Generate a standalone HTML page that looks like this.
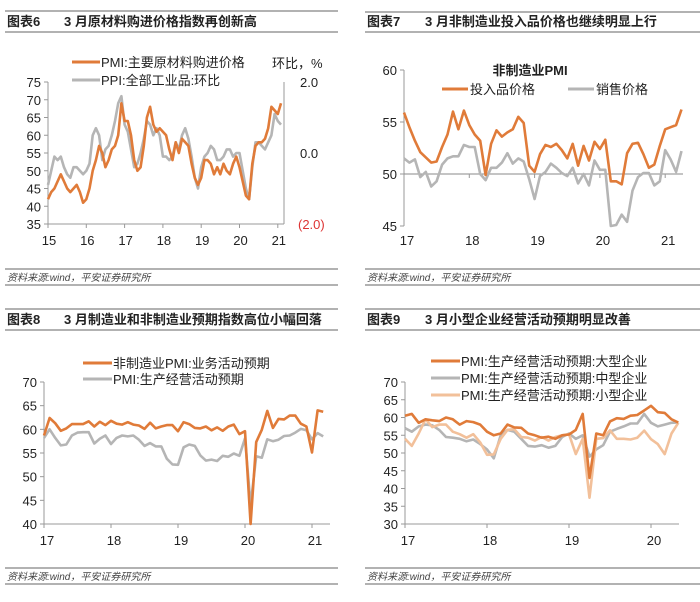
<!DOCTYPE html>
<html><head><meta charset="utf-8">
<style>
html,body{margin:0;padding:0;background:#fff}
svg{display:block;font-family:"Liberation Sans","Noto Sans CJK SC",sans-serif}
</style></head><body>
<svg id="s" width="700" height="602" viewBox="0 0 700 602" xmlns="http://www.w3.org/2000/svg">
<g stroke="#666" stroke-width="1">
<line x1="5" y1="11" x2="338" y2="11"/><line x1="5" y1="32" x2="338" y2="32"/>
<line x1="365" y1="12" x2="700" y2="12"/><line x1="365" y1="32" x2="700" y2="32"/>
<line x1="5" y1="309" x2="338" y2="309"/><line x1="5" y1="330" x2="338" y2="330"/>
<line x1="365" y1="309" x2="700" y2="309"/><line x1="365" y1="330" x2="700" y2="330"/>
<line x1="5" y1="269" x2="338" y2="269"/><line x1="5" y1="285" x2="338" y2="285"/>
<line x1="365" y1="269" x2="700" y2="269"/><line x1="365" y1="285" x2="700" y2="285"/>
<line x1="5" y1="568" x2="338" y2="568"/><line x1="5" y1="584" x2="338" y2="584"/>
<line x1="365" y1="568" x2="700" y2="568"/><line x1="365" y1="584" x2="700" y2="584"/>
</g>
<g font-size="13" font-weight="bold" fill="#222">
<text x="7" y="26">图表6</text><text x="64" y="26">3 月原材料购进价格指数再创新高</text>
<text x="367" y="26">图表7</text><text x="425" y="26">3 月非制造业投入品价格也继续明显上行</text>
<text x="7" y="324">图表8</text><text x="64" y="324">3 月制造业和非制造业预期指数高位小幅回落</text>
<text x="367" y="324">图表9</text><text x="425" y="324">3 月小型企业经营活动预期明显改善</text>
</g>
<g font-size="10" font-style="italic" fill="#444">
<text x="7" y="281">资料来源:wind，平安证券研究所</text>
<text x="367" y="281">资料来源:wind，平安证券研究所</text>
<text x="7" y="580">资料来源:wind，平安证券研究所</text>
<text x="367" y="580">资料来源:wind，平安证券研究所</text>
</g>
<g id="c" font-size="12" fill="#222"></g>
</svg>
<script>
var c=document.getElementById('c'),NS='http://www.w3.org/2000/svg';
function el(t,a,txt){var e=document.createElementNS(NS,t);for(var k in a)e.setAttribute(k,a[k]);if(txt!=null)e.textContent=txt;c.appendChild(e);return e;}
function line(x1,y1,x2,y2,col,w){el('line',{x1:x1,y1:y1,x2:x2,y2:y2,stroke:col||'#999','stroke-width':w||1});}
function poly(d,x0,dx,fy,col){var p=d.map(function(v,i){return (x0+i*dx).toFixed(1)+','+fy(v).toFixed(1)}).join(' ');el('polyline',{points:p,fill:'none',stroke:col,'stroke-width':2.6,'stroke-linejoin':'round'});}
function txt(x,y,s,a){var o={x:x,y:y};for(var k in a)o[k]=a[k];el('text',o,s);}
var OR='#E07B39',GR='#B5B5B5',LO='#F2C09A';
// Panel 1
(function(){var fy=function(v){return 224-(v-35)*142/40};
line(48,82,48,224);line(48,224,284,224);line(284,82,284,224);
for(var v=35;v<=75;v+=5){txt(41,fy(v)+5,v,{'text-anchor':'end','font-size':13});line(44,fy(v),48,fy(v));}
for(var i=0;i<7;i++){var x=48+i*38.3;line(x,224,x,228);txt(x+1,245,15+i,{'text-anchor':'middle','font-size':13});}
txt(300,87,'2.0',{'font-size':13});txt(300,158,'0.0',{'font-size':13});txt(298,229,'(2.0)',{'font-size':13,fill:'#d33'});
txt(272,68,'环比，%',{'font-size':13});
line(72,62,100,62,OR,3);txt(101,67,'PMI:主要原材料购进价格',{'font-size':13});
line(72,80,100,80,GR,3);txt(101,85,'PPI:全部工业品:环比',{'font-size':13});
var dx=38.3/12;
var g=[46,50,54,53,54,51,49,48,51,51,50,49,50,52,60,62,60,53,56,57,60,64,69,71,63,61,56,51,52,55,59,64,63,60,62,60,54,54,53,54,58,56,60,62,59,54,48,45,51,54,55,57,56,53,53,54,56,56,54,55,55,50,45,42,51,58,58,57,56,58,60,66,64,63];
var o=[42,44,45,47,49,47,45,44,45,46,44,41,42,45,50,53,57,55,51,53,56,57,60,69,64,64,60,53,50,51,57,65,68,63,61,62,61,60,56,53,58,55,59,58,57,52,48,46,48,53,53,52,49,51,49,52,50,49,52,54,51,47,43,42,52,57,58,58,59,62,68,67,66,69];
poly(g,48,dx,fy,GR);poly(o,48,dx,fy,OR);})();
// Panel 2
(function(){var fy=function(v){return 226-(v-45)*10.4};
line(404,70,404,226);line(404,174,683,174,'#888');
for(var v=45;v<=60;v+=5){txt(397,fy(v)+5,v,{'text-anchor':'end','font-size':13});line(400,fy(v),404,fy(v));}
for(var i=0;i<5;i++){var x=404+i*65.3;line(x,174,x,178);txt(x+3,245,17+i,{'text-anchor':'middle','font-size':13});}
txt(530,75,'非制造业PMI',{'text-anchor':'middle','font-size':13,'font-weight':'bold'});
line(442,89,468,89,OR,3);txt(470,94,'投入品价格',{'font-size':13});
line(568,89,594,89,GR,3);txt(596,94,'销售价格',{'font-size':13});
var dx=65.3/12;
var s=[51.5,51.1,51.4,49.7,50.2,48.8,49.3,50.9,51.5,51.7,51.7,52.8,52.6,52.6,50.0,49.4,50.6,50.6,51.1,52.0,51.0,51.5,51.2,49.5,47.6,49.8,50.2,51.0,50.6,50.1,49.8,50.6,49.1,50.0,48.9,51.3,50.4,50.4,45.0,45.1,46.1,45.4,48.4,49.7,50.1,50.1,48.9,49.3,52.3,51.4,50.2,52.2];
var o=[55.9,54.5,53.2,52.1,51.6,51.1,51.2,52.6,53.8,56.0,54.3,56.1,54.7,53.8,53.2,49.9,52.9,54.2,53.6,54.0,54.3,55.5,54.9,50.8,50.2,51.9,52.8,52.6,52.9,52.3,51.5,52.9,50.8,52.7,51.3,53.1,52.4,53.3,49.3,49.3,49.0,52.0,52.9,53.0,51.9,50.6,50.9,52.7,54.3,54.5,54.7,56.2];
poly(s,404,dx,fy,GR);poly(o,404,dx,fy,OR);})();
// Panel 3
(function(){var fy=function(v){return 524-(v-40)*142/30};
line(44,382,44,524);line(44,524,330,524);
for(var v=40;v<=70;v+=5){txt(37,fy(v)+5,v,{'text-anchor':'end','font-size':13});line(40,fy(v),44,fy(v));}
for(var i=0;i<5;i++){var x=44+i*67;line(x,524,x,528);txt(x+3,545,17+i,{'text-anchor':'middle','font-size':13});}
line(83,363,112,363,OR,3);txt(113,368,'非制造业PMI:业务活动预期',{'font-size':13});
line(83,379,112,379,GR,3);txt(113,384,'PMI:生产经营活动预期',{'font-size':13});
var dx=67/12;
var g=[58.2,60.0,58.2,56.6,56.8,58.7,59.3,59.4,59.4,57.0,58.0,58.7,56.9,58.2,58.7,58.5,58.7,57.8,56.5,57.1,56.4,56.4,53.8,52.6,52.5,56.2,56.8,56.5,54.5,53.4,53.6,53.3,54.4,54.2,54.9,54.4,58.1,44.0,54.3,54.0,57.9,57.5,57.8,58.6,58.7,59.3,60.1,59.8,57.9,59.2,58.5];
var o=[58.7,62.4,61.3,59.7,60.2,61.1,61.1,61.1,61.7,60.6,61.6,60.9,61.8,61.2,61.0,61.5,61.0,60.8,60.1,61.4,60.2,60.6,60.9,60.9,59.6,61.5,61.1,60.3,60.2,60.6,59.8,60.4,59.7,60.6,61.0,59.0,59.6,40.0,57.3,59.9,63.9,60.3,62.2,62.1,62.9,62.9,61.2,60.6,55.1,64.0,63.7];
poly(g,44,dx,fy,GR);poly(o,44,dx,fy,OR);})();
// Panel 4
(function(){var fy=function(v){return 524-(v-30)*142/40};
line(405,382,405,524);line(405,524,679,524);
for(var v=30;v<=70;v+=5){txt(398,fy(v)+5,v,{'text-anchor':'end','font-size':13});line(401,fy(v),405,fy(v));}
for(var i=0;i<4;i++){var x=405+i*82;line(x,524,x,528);txt(x+3,545,17+i,{'text-anchor':'middle','font-size':13});}
line(431,361,460,361,OR,3);txt(461,366,'PMI:生产经营活动预期:大型企业',{'font-size':13});
line(431,378,460,378,GR,3);txt(461,383,'PMI:生产经营活动预期:中型企业',{'font-size':13});
line(431,395,460,395,LO,3);txt(461,400,'PMI:生产经营活动预期:小型企业',{'font-size':13});
var dx=82/12;
var L=[60.5,61,58.5,59.5,59.2,59,60,59.5,58,59,58.7,58,56,55,55.5,58,57.2,57.1,55.5,55,54.3,54.6,54,55,55.2,56.5,61,43,55.5,55,58.9,59.8,59.6,60.5,60.7,62,63.3,61.5,61.3,59.5,58.6];
var M=[57,56,57.5,58,57.8,56.5,54.5,54.3,54,53.3,53.8,52.5,51,48.5,55,56.5,56,54,52,51.8,52.2,51.5,52,54.5,55.5,54,55,49,51,52.2,56,56.8,57.5,58.3,58.3,61,58.5,57.5,58,58.5,58.6];
var S=[54,52,55.5,59.5,57.3,58,58,56,55.3,54.3,55.3,53,49.5,49.6,54,56.5,56.7,54.5,54.3,53.5,54.5,53.5,54.5,55,55.3,49.7,54,37.4,54,54.2,56.4,54,54,53.8,54.3,56.3,53.9,52.5,49.7,55.5,58.5];
poly(M,405,dx,fy,GR);poly(S,405,dx,fy,LO);poly(L,405,dx,fy,OR);})();
</script>
</body></html>
